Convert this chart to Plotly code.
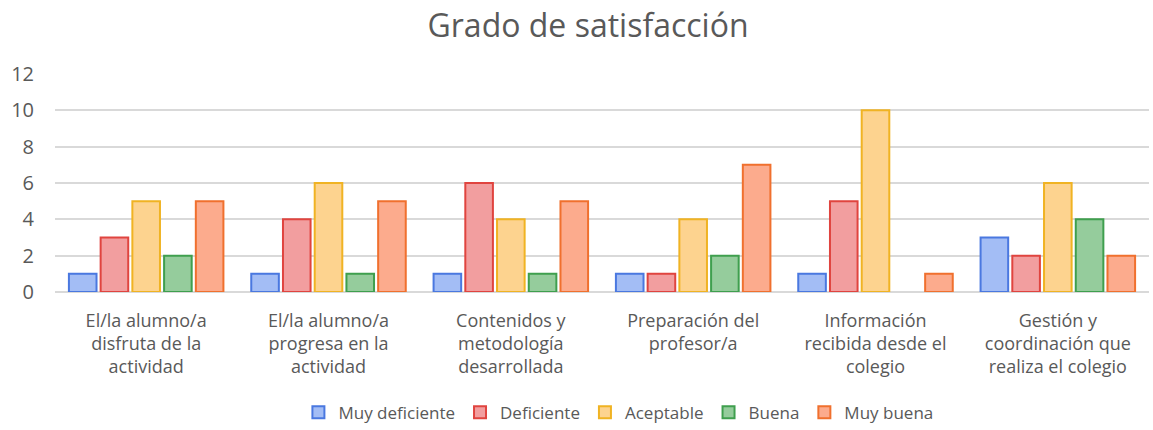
import plotly.graph_objects as go

categories = [
    "El/la alumno/a<br>disfruta de la<br>actividad",
    "El/la alumno/a<br>progresa en la<br>actividad",
    "Contenidos y<br>metodología<br>desarrollada",
    "Preparación del<br>profesor/a",
    "Información<br>recibida desde el<br>colegio",
    "Gestión y<br>coordinación que<br>realiza el colegio",
]
muy_deficiente = [1, 1, 1, 1, 1, 3]
deficiente = [3, 4, 6, 1, 5, 2]
aceptable = [5, 6, 4, 4, 10, 6]
buena = [2, 1, 1, 2, 0, 4]
muy_buena = [5, 5, 5, 7, 1, 2]

series = [
    ("Muy deficiente", muy_deficiente, "#a3bdf5", "#4a78e0"),
    ("Deficiente", deficiente, "#f29e9f", "#e0443f"),
    ("Aceptable", aceptable, "#fdd38f", "#f0b323"),
    ("Buena", buena, "#95cc9c", "#3f9f4e"),
    ("Muy buena", muy_buena, "#fcab8d", "#f0702e"),
]

txt = "#595959"
font_family = "'Open Sans', sans-serif"

fig = go.Figure()
for name, vals, fill, line in series:
    fig.add_trace(go.Bar(
        name=name, x=categories, y=vals,
        marker=dict(color=fill,
                    line=dict(color=line, width=[2 if v > 0 else 0 for v in vals])),
    ))

fig.update_layout(
    width=1153, height=430,
    margin=dict(l=55, r=4, t=74, b=138, autoexpand=False),
    paper_bgcolor="white", plot_bgcolor="white",
    barmode="group", bargap=0.13, bargroupgap=0.13,
    title=dict(text="Grado de satisfacción", x=0.51, xanchor="center",
               yref="container", y=0.94, yanchor="middle",
               font=dict(size=32, color=txt, family=font_family)),
    font=dict(family=font_family, color=txt, size=17),
    legend=dict(orientation="h", x=0.515, xanchor="center",
                yref="container", y=0.04, yanchor="middle",
                font=dict(size=17, color=txt), itemwidth=30,
                traceorder="normal"),
    xaxis=dict(showgrid=False, showline=False, ticks="outside", ticklen=12,
               tickcolor="rgba(0,0,0,0)", automargin=False,
               tickfont=dict(size=18, color=txt)),
    yaxis=dict(range=[0, 12], dtick=2, showgrid=True, gridcolor="#d9d9d9",
               gridwidth=1.5, zeroline=True, zerolinecolor="#d9d9d9",
               zerolinewidth=1.5, tickfont=dict(size=20, color=txt),
               automargin=False,
               ticks="outside", ticklen=16, tickcolor="rgba(0,0,0,0)"),
)

fig.write_html("out.html", config={"displayModeBar": False},
               post_script="document.body.style.margin='0';document.body.style.overflow='hidden';")
